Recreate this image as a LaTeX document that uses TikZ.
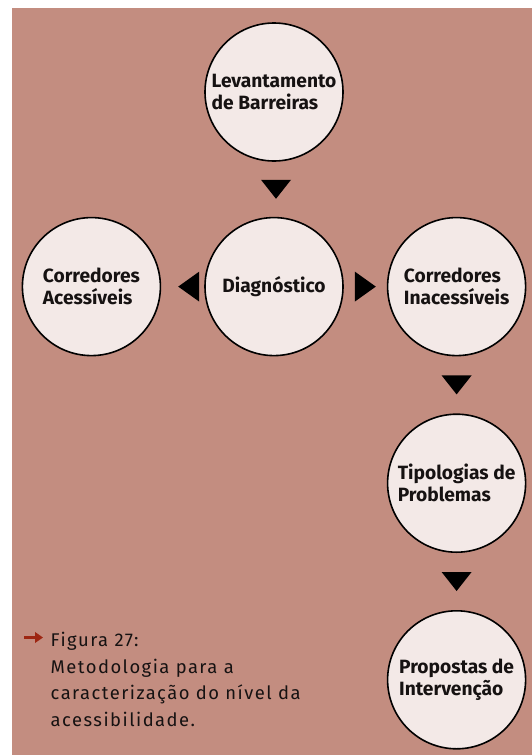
\documentclass[tikz,border=0pt]{standalone}
\usepackage{fontspec}
\usepackage{tikz}
\usetikzlibrary{arrows.meta,positioning,calc}
\newfontfamily\dinfont{Fira Sans}
\newfontfamily\dinwide[LetterSpace=8]{Fira Sans}
\definecolor{panel}{RGB}{195,141,128}
\definecolor{disc}{RGB}{243,233,231}
\definecolor{arrowred}{RGB}{158,38,18}
\definecolor{ink}{RGB}{22,18,18}
\newcommand{\tridown}[1]{\fill[tri] (#1) ++(-15,-9.5) -- ++(30,0) -- ++(-15,19) -- cycle;}
\newcommand{\trileft}[1]{\fill[tri] (#1) ++(10.5,-15) -- ++(0,30) -- ++(-21,-15) -- cycle;}
\newcommand{\triright}[1]{\fill[tri] (#1) ++(-10.5,-15) -- ++(0,30) -- ++(21,-15) -- cycle;}

\begin{document}
\begin{tikzpicture}[x=1pt, y=-1pt,
      node distance=55pt and 43pt,
      stage/.style={circle, draw=black, line width=1.6pt, fill=disc,
                    minimum size=138pt, inner sep=0pt, align=left,
                    text=ink, font=\dinfont\bfseries\fontsize{19.2}{22}\selectfont},
      tri/.style={fill=black},
      figcap/.style={align=left, inner sep=0pt, text=ink,
                  font=\dinwide\fontsize{18.4}{26.7}\selectfont},
      pointer/.style={draw=arrowred, line width=3.6pt,
                      -{Triangle[length=8pt, width=10.5pt, fill=arrowred]}}]
    \useasboundingbox (0,0) rectangle (532,755);
    \fill[panel] (12,8) rectangle (532,755);
    \node[stage] (lev) at (274,92) {Levantamento\\de Barreiras};
    \node[stage, below=of lev] (diag) {Diagnóstico};
    \node[stage, left=of diag] (acc) {Corredores\\Acessíveis};
    \node[stage, right=of diag] (inac) {Corredores\\Inacessíveis};
    \node[stage, below=57pt of inac] (tip) {Tipologias de\\Problemas};
    \node[stage, below=57pt of tip] (prop) {Propostas de\\Intervenção};
    \coordinate (t1) at ($(lev.south)!0.5!(diag.north)+(2,0)$);
    \coordinate (t2) at ($(acc.east)!0.64!(diag.west)$);
    \coordinate (t3) at ($(diag.east)!0.5!(inac.west)$);
    \coordinate (t4) at ($(inac.south)!0.5!(tip.north)$);
    \coordinate (t5) at ($(tip.south)!0.5!(prop.north)$);
    \tridown{t1}
    \trileft{t2}
    \triright{t3}
    \tridown{t4}
    \tridown{t5}
    \node[figcap, anchor=north west] (fig) at (50.5,632) {Figura 27:\\Metodologia para a\\caracterização do nível da\\acessibilidade.};
    \coordinate (mk) at ($(fig.north west)+(-26.5,5.5)$);
    \draw[pointer] (mk) -- ++(19,0);
  \end{tikzpicture}
\end{document}
